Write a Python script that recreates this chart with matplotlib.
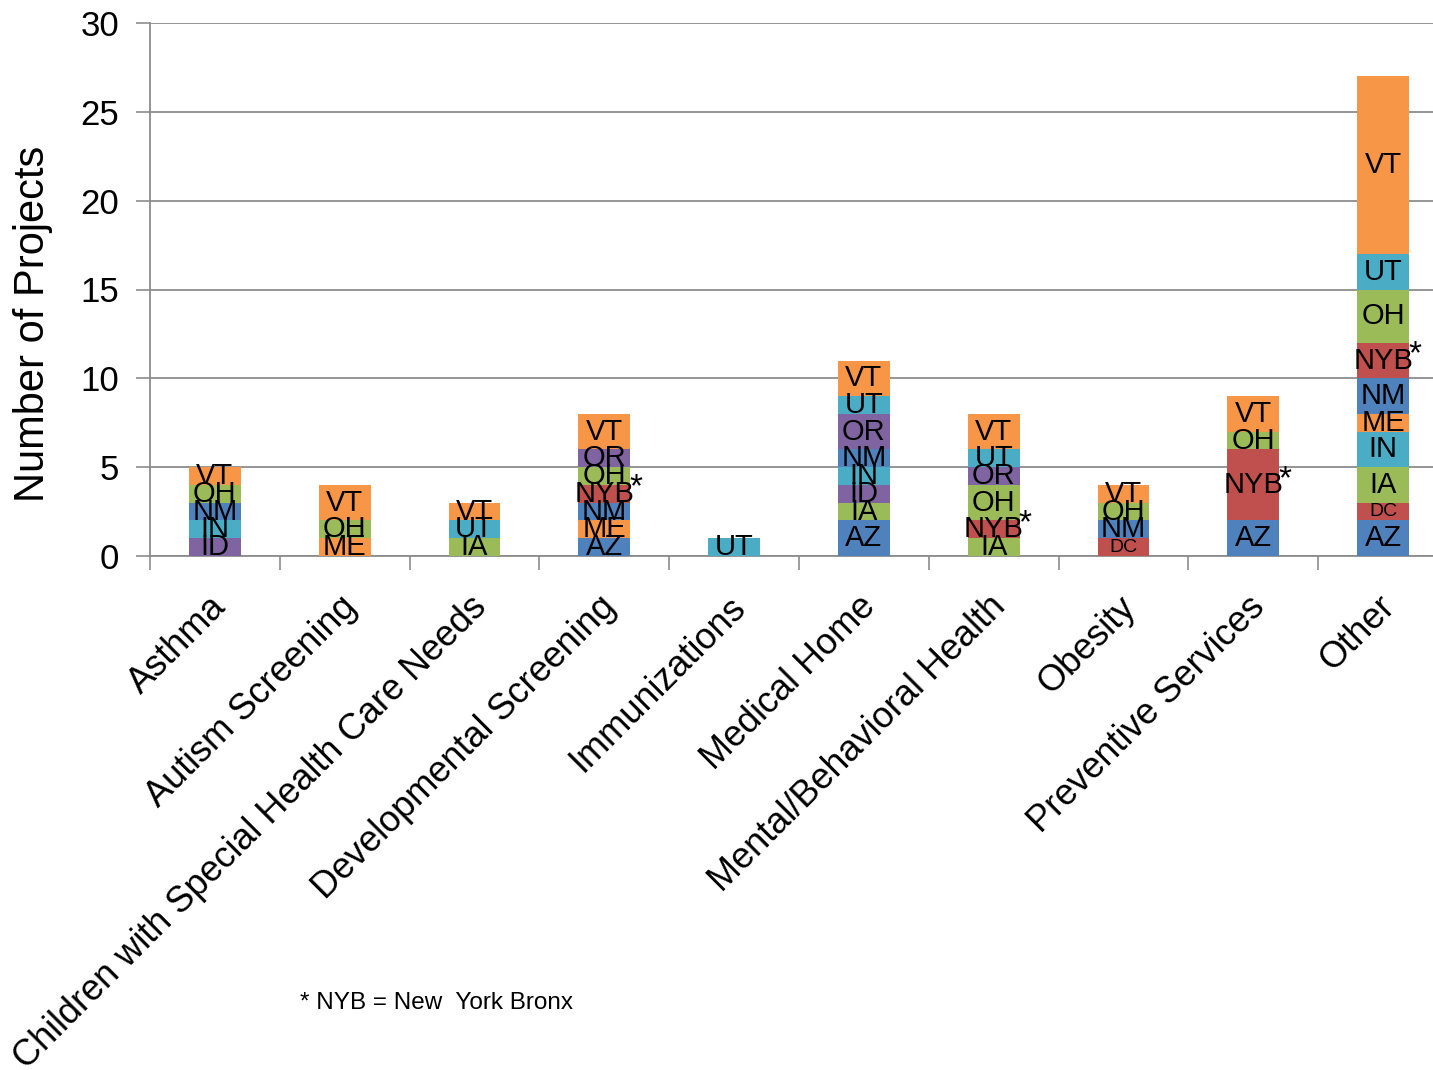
import numpy as np
import matplotlib
matplotlib.use("Agg")
import matplotlib.pyplot as plt
from matplotlib import transforms

plt.rcParams['font.family'] = ['Liberation Sans', 'DejaVu Sans']

categories = ["Asthma", "Autism Screening", "Children with Special Health Care Needs",
              "Developmental Screening", "Immunizations", "Medical Home",
              "Mental/Behavioral Health", "Obesity", "Preventive Services", "Other"]

# projects per state, one value per category (stacked bottom -> top)
AZ = [0, 0, 0, 1, 0, 2, 0, 0, 2, 2]
DC = [0, 0, 0, 0, 0, 0, 0, 1, 0, 1]
IA = [0, 0, 1, 0, 0, 1, 1, 0, 0, 2]
ID = [1, 0, 0, 0, 0, 1, 0, 0, 0, 0]
IN = [1, 0, 0, 0, 0, 1, 0, 0, 0, 2]
ME = [0, 1, 0, 1, 0, 0, 0, 0, 0, 1]
NM = [1, 0, 0, 1, 0, 1, 0, 1, 0, 2]
NYB = [0, 0, 0, 1, 0, 0, 1, 0, 4, 2]
OH = [1, 1, 0, 1, 0, 0, 2, 1, 1, 3]
OR = [0, 0, 0, 1, 0, 2, 1, 0, 0, 0]
UT = [0, 0, 1, 0, 1, 1, 1, 0, 0, 2]
VT = [1, 2, 1, 2, 0, 2, 2, 1, 2, 10]

states = ["AZ", "DC", "IA", "ID", "IN", "ME", "NM", "NYB", "OH", "OR", "UT", "VT"]
series = [AZ, DC, IA, ID, IN, ME, NM, NYB, OH, OR, UT, VT]

# Office palette, cycling
palette = ['#4F81BD', '#C0504D', '#9BBB59', '#8064A2', '#4BACC6', '#F79646']

fig = plt.figure(figsize=(14.33, 10.70), dpi=100)
ax = fig.add_axes([150 / 1433, 1 - 556 / 1070, 1298 / 1433, 533 / 1070])

x = np.arange(len(categories))
bottom = np.zeros(len(categories))
for i, (name, vals) in enumerate(zip(states, series)):
    vals = np.array(vals, dtype=float)
    color = palette[i % len(palette)]
    ax.bar(x, vals, width=0.4, bottom=bottom, color=color, linewidth=0, zorder=3)
    for xi, v, b in zip(x, vals, bottom):
        if v <= 0:
            continue
        size = 14 if name == "DC" else 21
        ax.text(xi, b + v / 2, name, ha='center', va='center', fontsize=size,
                color='black', zorder=4)
        if name == "NYB":
            ax.annotate("*", (xi, b + v / 2), xytext=(18, 4), textcoords='offset points',
                        ha='left', va='center', fontsize=24, zorder=4)
    bottom += vals

ax.set_xlim(-0.5, len(categories) - 0.5)
ax.set_ylim(0, 30)
ax.set_yticks(np.arange(0, 31, 5))
ax.grid(axis='y', color='#8c8c8c', linewidth=1.3, zorder=0)
ax.tick_params(axis='y', length=10, width=1.2, color='#8c8c8c', labelsize=25, pad=12)

ax.set_xticks(x)
ax.set_xticklabels(categories, rotation=45, ha='right', rotation_mode='anchor', fontsize=26)
ax.tick_params(axis='x', which='major', length=0, pad=24)
shift = transforms.ScaledTranslation(-6 / 100, 0, fig.dpi_scale_trans)
for lbl in ax.get_xticklabels():
    lbl.set_transform(lbl.get_transform() + shift)
ax.set_xticks(np.arange(-0.5, len(categories) + 0.5, 1), minor=True)
ax.tick_params(axis='x', which='minor', length=10, width=1.2, color='#8c8c8c')

for s in ['top', 'right']:
    ax.spines[s].set_visible(False)
for s in ['left', 'bottom']:
    ax.spines[s].set_color('#8c8c8c')
    ax.spines[s].set_linewidth(1.3)

fig.text(33 / 1433, 1 - 324 / 1070, "Number of Projects", rotation=90,
         ha='center', va='center', fontsize=30)
fig.text(300 / 1433, 1 - 1003 / 1070, "* NYB = New  York Bronx",
         ha='left', va='center', fontsize=17.5)

fig.savefig("out.png", dpi=100)
